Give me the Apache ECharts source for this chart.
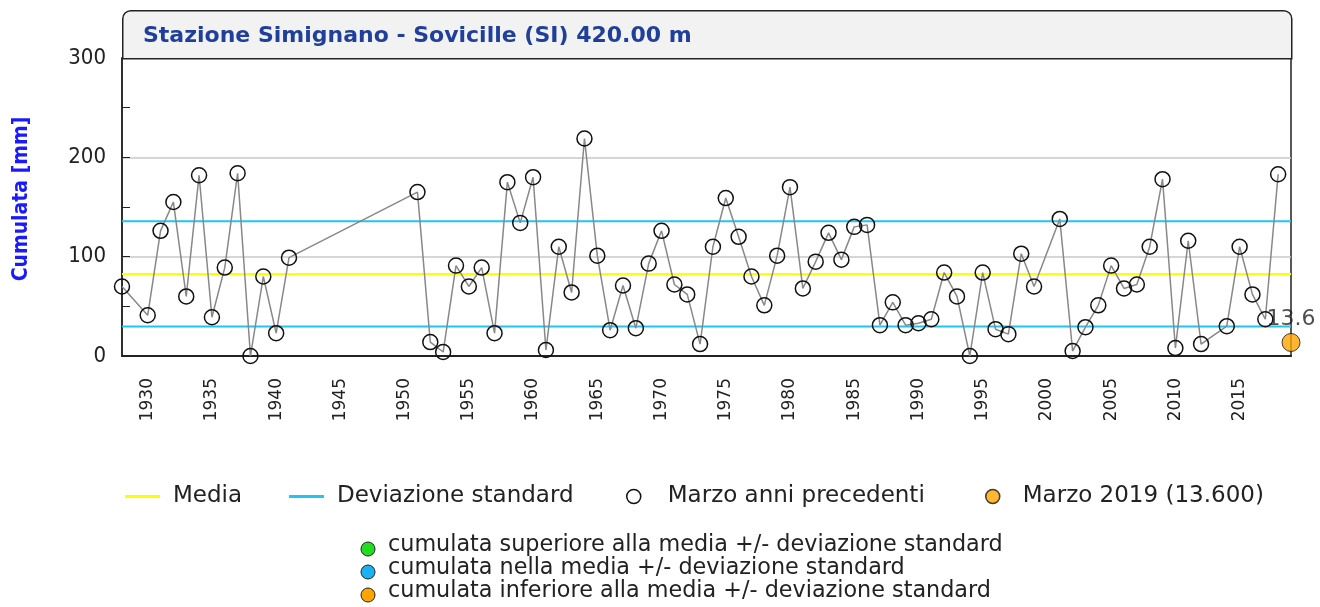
<!DOCTYPE html>
<html>
<head>
<meta charset="utf-8">
<script src="https://cdn.jsdelivr.net/npm/echarts@6/dist/echarts.min.js"></script>
<style>
  html, body { margin: 0; padding: 0; background: #fff; }
  #chart { width: 1320px; height: 607px; }
</style>
</head>
<body>
<div id="chart"></div>
<script>
// anni con dato (mancano 1929, 1942-1950, 2000, 2013)
const anni = [1928, 1930, 1931, 1932, 1933, 1934, 1935, 1936, 1937, 1938, 1939, 1940, 1941,
  1951, 1952, 1953, 1954, 1955, 1956, 1957, 1958, 1959, 1960, 1961, 1962, 1963, 1964, 1965,
  1966, 1967, 1968, 1969, 1970, 1971, 1972, 1973, 1974, 1975, 1976, 1977, 1978, 1979, 1980,
  1981, 1982, 1983, 1984, 1985, 1986, 1987, 1988, 1989, 1990, 1991, 1992, 1993, 1994, 1995,
  1996, 1997, 1998, 1999, 2001, 2002, 2003, 2004, 2005, 2006, 2007, 2008, 2009, 2010, 2011,
  2012, 2014, 2015, 2016, 2017, 2018]
const cumulata = [70, 41, 126, 155, 60, 182, 39, 89, 184, 0, 80, 23, 99,
  165, 14, 4, 91, 70, 89, 23, 175, 134, 180, 6, 110, 64, 219, 101,
  26, 71, 28, 93, 126, 72, 62, 12, 110, 159, 120, 80, 51, 101, 170,
  68, 95, 124, 97, 130, 132, 31, 54, 31, 33, 37, 84, 60, 0, 84,
  27, 22, 103, 70, 138, 5, 29, 51, 91, 68, 72, 110, 178, 8, 116,
  12, 30, 110, 62, 37, 183]
const annoCorrente = 2019
const valoreCorrente = 13.6
const media = 82.6
const devStd = 53
const anniEtichette = [1930, 1935, 1940, 1945, 1950, 1955, 1960, 1965, 1970, 1975, 1980,
  1985, 1990, 1995, 2000, 2005, 2010, 2015]
const noteLegenda = [
  {testo: 'cumulata superiore alla media +/- deviazione standard', colore: '#22dd22'},
  {testo: 'cumulata nella media +/- deviazione standard', colore: '#1ab2f0'},
  {testo: 'cumulata inferiore alla media +/- deviazione standard', colore: '#ffa500'}
]

const fontC = '"DejaVu Sans Condensed", "DejaVu Sans", sans-serif'
const font = '"DejaVu Sans", sans-serif'
const x0 = 1928, x1 = 2019

var chart = echarts.init(document.getElementById('chart'))

const legendText = {fontFamily: font, fontSize: 23, color: '#222'}

const option = {
  animation: false,
  grid: {left: 122, right: 29, top: 58, bottom: 251, show: true, borderColor: '#222', borderWidth: 1.5},
  xAxis: {
    type: 'value', min: x0, max: x1,
    axisLine: {lineStyle: {color: '#222', width: 2}},
    axisTick: {show: false},
    splitLine: {show: false},
    axisLabel: {
      customValues: anniEtichette, rotate: 90, margin: 22,
      formatter: v => String(v),
      fontFamily: font, fontSize: 17, color: '#222'
    }
  },
  yAxis: {
    type: 'value', min: 0, max: 300, interval: 100,
    name: 'Cumulata [mm]', nameLocation: 'middle', nameGap: 90,
    nameTextStyle: {fontFamily: fontC, fontSize: 21, fontWeight: 'bold', color: '#1a1aff', padding: [0, 0, 0, 16]},
    axisLine: {show: true, lineStyle: {color: '#222', width: 1.5}},
    axisTick: {show: true, inside: true, length: 8, lineStyle: {color: '#222'}},
    minorTick: {show: true, splitNumber: 2, length: 8, lineStyle: {color: '#222'}},
    splitLine: {lineStyle: {color: '#c8c8c8', width: 1.5}},
    axisLabel: {margin: 16, fontFamily: fontC, fontSize: 22, color: '#222'}
  },
  legend: [
    {left: 120, top: 480, itemWidth: 35, itemHeight: 3, textStyle: Object.assign({padding: [0, 0, 0, 8]}, legendText),
      data: [{name: 'Media', icon: 'rect'}]},
    {left: 284, top: 480, itemWidth: 35, itemHeight: 3, textStyle: Object.assign({padding: [0, 0, 0, 8]}, legendText),
      data: [{name: 'Deviazione standard', icon: 'rect'}]},
    {left: 621, top: 480, itemWidth: 14, itemHeight: 14, textStyle: Object.assign({padding: [0, 0, 0, 22]}, legendText),
      data: [{name: 'Marzo anni precedenti', icon: 'circle', itemStyle: {color: '#fff', borderColor: '#111', borderWidth: 1.5}}]},
    {left: 980, top: 480, itemWidth: 14, itemHeight: 14, textStyle: Object.assign({padding: [0, 0, 0, 18]}, legendText),
      data: [{name: 'Marzo 2019 (13.600)', icon: 'circle', itemStyle: {color: '#ffa500', borderColor: '#111', borderWidth: 1.5}}]}
  ],
  graphic: [
    {type: 'rect', left: 122, top: 10, z: 10,
      shape: {width: 1169, height: 48, r: [8, 8, 0, 0]},
      style: {fill: '#f2f2f2', stroke: '#222', lineWidth: 1.5}},
    {type: 'text', left: 143, top: 25, z: 11,
      style: {text: 'Stazione Simignano - Sovicille (SI) 420.00 m', fill: '#1f3f9a',
        font: 'bold 22px "DejaVu Sans", sans-serif'}}
  ].concat(noteLegenda.flatMap((n, i) => [
    {type: 'circle', shape: {cx: 368, cy: 549 + i * 23, r: 7},
      style: {fill: n.colore, stroke: '#222', lineWidth: 1}},
    {type: 'text', left: 388, top: 534 + i * 23,
      style: {text: n.testo, fill: '#222', font: '22.3px "DejaVu Sans", sans-serif'}}
  ])),
  series: [
    {name: 'Media', type: 'line', symbol: 'none', silent: true,
      lineStyle: {color: '#ffff00', width: 2}, itemStyle: {color: '#ffff00'},
      data: [[x0, media], [x1, media]]},
    {name: 'Deviazione standard', type: 'line', symbol: 'none', silent: true,
      lineStyle: {color: '#22c4f2', width: 2}, itemStyle: {color: '#22c4f2'},
      data: [[x0, media - devStd], [x1, media - devStd]]},
    {name: 'Deviazione standard', type: 'line', symbol: 'none', silent: true,
      lineStyle: {color: '#22c4f2', width: 2}, itemStyle: {color: '#22c4f2'},
      data: [[x0, media + devStd], [x1, media + devStd]]},
    {name: 'Marzo anni precedenti', type: 'line', symbol: 'circle', symbolSize: 15, clip: false,
      lineStyle: {color: '#888', width: 1.5},
      itemStyle: {color: 'rgba(255,255,255,0)', borderColor: '#111', borderWidth: 1.5},
      data: anni.map((a, i) => [a, cumulata[i]])},
    {name: 'Marzo 2019 (13.600)', type: 'scatter', symbolSize: 18, clip: false,
      itemStyle: {color: '#ffa500', borderColor: '#111', borderWidth: 1},
      label: {show: true, position: 'top', distance: 3, formatter: '13.6',
        fontFamily: font, fontSize: 22, color: '#222'},
      data: [[annoCorrente, valoreCorrente]]}
  ]
}

chart.setOption(option)
window.addEventListener('resize', () => { chart.resize() })
</script>
</body>
</html>
